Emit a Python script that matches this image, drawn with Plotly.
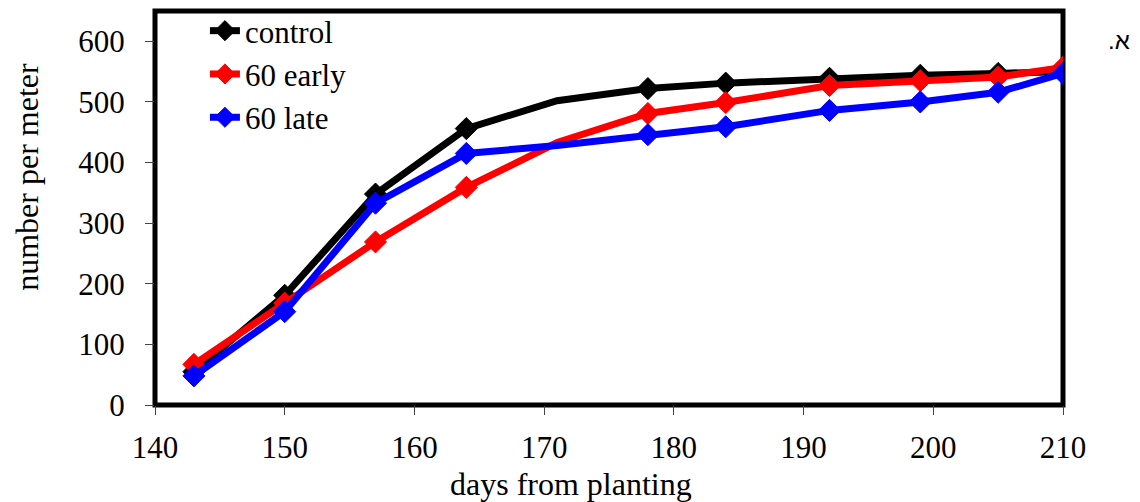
import plotly.graph_objects as go

# days from planting
days = [143, 150, 157, 164, 171, 178, 184, 192, 199, 205, 210]

# number per meter for each treatment
control = [55, 181, 348, 456, 502, 522, 531, 539, 544, 547, 550]
early_60 = [67, 168, 269, 359, 433, 481, 499, 527, 535, 541, 557]
late_60 = [48, 154, 333, 415, 428, 446, 459, 486, 500, 516, 547]

# the day-171 sample is plotted without a marker
marker_sizes = [0 if d == 171 else 17 for d in days]

series = [
    ("control", control, "#000000"),
    ("60 early", early_60, "#FF0000"),
    ("60 late", late_60, "#0000FF"),
]

SERIF = "Liberation Serif"
FS = 31

fig = go.Figure()
for name, vals, color in series:
    fig.add_trace(go.Scatter(
        x=days, y=vals, name=name, mode="lines+markers",
        line=dict(color=color, width=7),
        marker=dict(symbol="diamond", size=marker_sizes, color=color, opacity=1,
                    line=dict(color=color, width=1)),
    ))

axis_common = dict(
    showgrid=False, zeroline=False, showline=False,
    ticks="outside", ticklen=9, tickwidth=1, tickcolor="#444444",
    tickfont=dict(family=SERIF, size=FS, color="black"),
)

fig.update_xaxes(range=[140, 210], tick0=140, dtick=10, ticklabelstandoff=6, **axis_common)
fig.update_yaxes(range=[0, 650], tickvals=[0, 100, 200, 300, 400, 500, 600],
                 ticklabelstandoff=14, **axis_common)

# frame around the plotting area
fig.add_shape(type="rect", xref="paper", yref="paper", x0=0, x1=1, y0=0, y1=1,
              line=dict(color="black", width=5), layer="below")

fig.add_annotation(text="days from planting", xref="paper", yref="paper",
                   x=0.4587, y=-0.201, xanchor="center", yanchor="middle",
                   showarrow=False, font=dict(family=SERIF, size=32, color="black"))
fig.add_annotation(text="number per meter", xref="paper", yref="paper",
                   x=-0.1412, y=0.5787, xanchor="center", yanchor="middle",
                   textangle=-90, showarrow=False,
                   font=dict(family=SERIF, size=32, color="black"))
fig.add_annotation(text=".א", xref="paper", yref="paper",
                   x=1.0622, y=0.925, xanchor="center", yanchor="middle",
                   showarrow=False,
                   font=dict(family="Liberation Sans", size=24, color="black"))

fig.update_layout(
    width=1140, height=502,
    margin=dict(l=155, r=77, t=11, b=97, autoexpand=False),
    plot_bgcolor="white", paper_bgcolor="white",
    showlegend=True,
    legend=dict(x=0.055, y=0.992, xref="paper", yref="container",
                xanchor="left", yanchor="top",
                bgcolor="rgba(0,0,0,0)", borderwidth=0,
                font=dict(family=SERIF, size=FS, color="black"),
                tracegroupgap=0),
)

fig.write_html("out.html")
